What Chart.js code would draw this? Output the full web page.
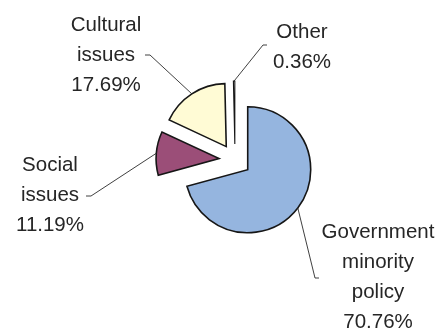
<!DOCTYPE html>
<html>
<head>
<meta charset="utf-8">
<script src="https://cdn.jsdelivr.net/npm/chart.js@4.4.1/dist/chart.umd.min.js"></script>
<style>
  html, body { margin: 0; padding: 0; background: #fff; }
  canvas { display: block; }
</style>
</head>
<body>
<canvas id="myChart" width="444" height="332"></canvas>
<script>
// slice names are split over several lines, the way they are printed
const categories = [
  ['Government', 'minority', 'policy'],
  ['Social', 'issues'],
  ['Cultural', 'issues'],
  ['Other']
];
const shares = [70.76, 11.19, 17.69, 0.36];

const colors = ['#95b5df', '#9b4e78', '#fffbd5', '#ffffff'];
const borderWidths = [1.6, 1.6, 1.6, 1.1];
const explode = [16, 16, 16, 16];

// text placement around the pie, relative to its centre (x = centre of text block,
// y = centre of first line), plus the elbow and end of each leader line
const labelSpots = [
  { x: 143, y: 72, elbow: [80, 118], end: [84, 118] },
  { x: -185, y: 5, elbow: [-144, 36], end: [-149, 36] },
  { x: -129, y: -135, elbow: [-85, -105], end: [-90, -105] },
  { x: 67, y: -128, elbow: [28, -115], end: [32, -115] }
];
const lineHeight = 30;

// pull every slice away from the centre along its own middle angle
const explodedSlices = {
  id: 'explodedSlices',
  beforeDatasetDraw(chart, args) {
    const ctx = chart.ctx;
    args.meta.data.forEach((arc, i) => {
      const mid = (arc.startAngle + arc.endAngle) / 2;
      ctx.save();
      ctx.translate(Math.cos(mid) * explode[i], Math.sin(mid) * explode[i]);
      arc.draw(ctx);
      ctx.restore();
    });
    return false;
  }
};

const sliceLabels = {
  id: 'sliceLabels',
  afterDatasetsDraw(chart) {
    const ctx = chart.ctx;
    const arcs = chart.getDatasetMeta(0).data;
    ctx.save();
    arcs.forEach((arc, i) => {
      const mid = (arc.startAngle + arc.endAngle) / 2;
      const cx = arc.x, cy = arc.y;
      const r = explode[i] + arc.outerRadius;
      const spot = labelSpots[i];

      ctx.strokeStyle = '#2a2a2a';
      ctx.lineWidth = 0.9;
      ctx.beginPath();
      ctx.moveTo(cx + Math.cos(mid) * r, cy + Math.sin(mid) * r);
      ctx.lineTo(cx + spot.elbow[0], cy + spot.elbow[1]);
      ctx.lineTo(cx + spot.end[0], cy + spot.end[1]);
      ctx.stroke();

      const lines = categories[i].concat(shares[i].toFixed(2) + '%');
      ctx.fillStyle = '#262626';
      ctx.font = '20.5px "Liberation Sans", Arial, sans-serif';
      ctx.textAlign = 'center';
      ctx.textBaseline = 'middle';
      lines.forEach((t, k) => {
        ctx.fillText(t, cx + spot.x, cy + spot.y + k * lineHeight);
      });
    });
    ctx.restore();
  }
};

new Chart(document.getElementById('myChart').getContext('2d'), {
  type: 'pie',
  data: {
    labels: categories.map(c => c.join(' ')),
    datasets: [{
      data: shares,
      backgroundColor: colors,
      borderColor: '#161616',
      borderWidth: borderWidths,
      borderJoinStyle: 'miter'
    }]
  },
  options: {
    responsive: false,
    devicePixelRatio: 1,
    animation: false,
    radius: 63,
    layout: { padding: { left: 40, right: 14, top: 10, bottom: 22 } },
    plugins: {
      legend: { display: false },
      tooltip: { enabled: false }
    }
  },
  plugins: [explodedSlices, sliceLabels]
});
</script>
</body>
</html>
